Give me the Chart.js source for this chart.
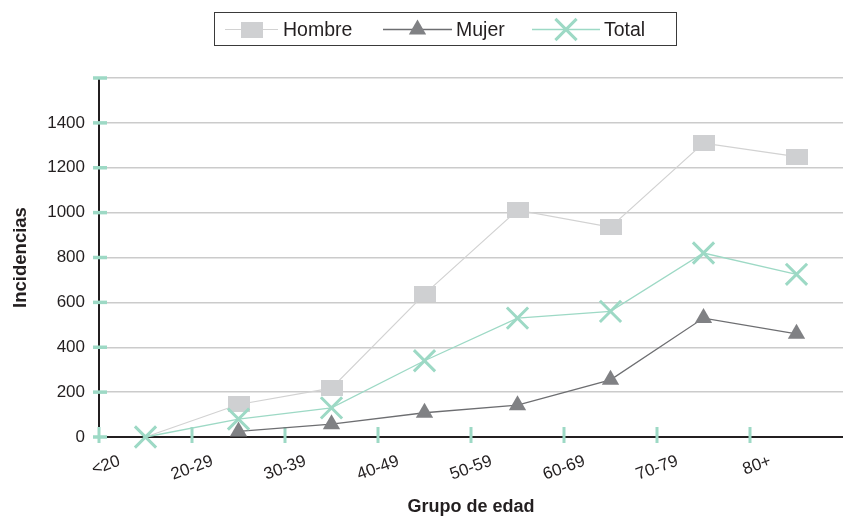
<!DOCTYPE html>
<html>
<head>
<meta charset="utf-8">
<script src="https://cdn.jsdelivr.net/npm/chart.js@4.4.1/dist/chart.umd.min.js"></script>
<style>
  html, body { margin: 0; padding: 0; background: #fff; overflow: hidden; }
  #wrap { width: 843px; height: 518px; }
</style>
</head>
<body>
<div id="wrap"><canvas id="chart"></canvas></div>
<script>
// Data
const categories = ['<20', '20-29', '30-39', '40-49', '50-59', '60-69', '70-79', '80+'];
const hombre = [0, 145, 218, 637, 1011, 935, 1310, 1250];
const mujer  = [null, 25, 57, 108, 142, 255, 530, 460];
const total  = [0, 80, 130, 340, 530, 560, 820, 725];
const yMax = 1600;
const yStep = 200;

const FONT = "'Liberation Sans', Arial, sans-serif";
const INK = '#231f20';
const GREY_LIGHT = '#cfd0d2';
const GREY_DARK = '#808184';
const TEAL = '#9dd9c5';

// wide grey rectangle used as the Hombre marker
function makeRect(w, h, color) {
  const c = document.createElement('canvas');
  c.width = w;
  c.height = h;
  const g = c.getContext('2d');
  g.fillStyle = color;
  g.fillRect(0, 0, w, h);
  return c;
}
const rectMarker = makeRect(22, 16, GREY_LIGHT);

/**
 * Teal tick marks that cross both axes
 */
const crossTicks = {
  id: 'crossTicks',
  beforeDatasetsDraw(chart) {
    const { ctx, scales: { x, y } } = chart;
    ctx.save();
    ctx.strokeStyle = TEAL;
    ctx.lineWidth = 3.5;
    y.ticks.forEach((t, i) => {
      const py = y.getPixelForTick(i);
      ctx.beginPath();
      ctx.moveTo(x.left - 6, py);
      ctx.lineTo(x.left + 8, py);
      ctx.stroke();
    });
    ctx.lineWidth = 3;
    for (let i = 0; i < categories.length; i++) {
      const px = x.getPixelForValue(i - 0.5);
      ctx.beginPath();
      ctx.moveTo(px, y.bottom - 10);
      ctx.lineTo(px, y.bottom + 6);
      ctx.stroke();
    }
    ctx.restore();
  }
};

/**
 * Boxed legend with a line through each marker
 */
const legendSlots = [
  { x0: 225, x1: 278, tx: 283 },
  { x0: 383, x1: 452, tx: 456 },
  { x0: 532, x1: 600, tx: 604 }
];
const boxLegend = {
  id: 'boxLegend',
  afterDraw(chart) {
    const ctx = chart.ctx;
    const cy = 29.5;
    ctx.save();
    ctx.strokeStyle = '#3a3a3a';
    ctx.lineWidth = 1;
    ctx.strokeRect(214.5, 12.5, 462, 33);
    chart.data.datasets.forEach((ds, i) => {
      const slot = legendSlots[i];
      ctx.strokeStyle = ds.borderColor;
      ctx.lineWidth = ds.borderWidth;
      ctx.beginPath();
      ctx.moveTo(slot.x0, cy);
      ctx.lineTo(slot.x1, cy);
      ctx.stroke();
      ctx.fillStyle = ds.pointBackgroundColor;
      ctx.strokeStyle = ds.pointBorderColor;
      ctx.lineWidth = ds.pointBorderWidth;
      Chart.helpers.drawPoint(ctx, {
        pointStyle: ds.pointStyle,
        radius: ds.legendRadius,
        rotation: 0,
        borderWidth: ds.pointBorderWidth
      }, (slot.x0 + slot.x1) / 2, cy);
      ctx.fillStyle = INK;
      ctx.font = '19.5px ' + FONT;
      ctx.textBaseline = 'middle';
      ctx.textAlign = 'left';
      ctx.fillText(ds.label, slot.tx, cy + 1);
    });
    ctx.restore();
  }
};

new Chart(document.getElementById('chart'), {
  type: 'line',
  data: {
    labels: categories,
    datasets: [
      {
        label: 'Hombre',
        data: hombre,
        borderColor: '#d2d2d2',
        borderWidth: 1.2,
        pointStyle: rectMarker,
        pointRadius: hombre.map((v, i) => i === 0 ? 0 : 8),
        pointBackgroundColor: GREY_LIGHT,
        pointBorderColor: GREY_LIGHT,
        pointBorderWidth: 0,
        legendRadius: 8,
        clip: false,
        order: 3
      },
      {
        label: 'Mujer',
        data: mujer,
        borderColor: '#6d6e71',
        borderWidth: 1.3,
        pointStyle: 'triangle',
        pointRadius: 10,
        pointBackgroundColor: GREY_DARK,
        pointBorderColor: GREY_DARK,
        pointBorderWidth: 0,
        legendRadius: 10,
        clip: false,
        order: 2
      },
      {
        label: 'Total',
        data: total,
        borderColor: TEAL,
        borderWidth: 1.3,
        pointStyle: 'crossRot',
        pointRadius: 15,
        pointBackgroundColor: TEAL,
        pointBorderColor: TEAL,
        pointBorderWidth: 3,
        legendRadius: 15,
        clip: false,
        order: 1
      }
    ]
  },
  options: {
    responsive: true,
    maintainAspectRatio: false,
    animation: false,
    layout: {
      autoPadding: false, // big markers must not shrink the plot area
      padding: { top: 78, left: 10, right: 0, bottom: 0 }
    },
    plugins: {
      legend: { display: false },
      tooltip: { enabled: false }
    },
    scales: {
      x: {
        offset: true,
        grid: { display: false, drawTicks: false },
        border: { color: INK, width: 2 },
        ticks: {
          color: INK,
          font: { family: FONT, size: 17 },
          minRotation: 20,
          maxRotation: 20,
          autoSkip: false,
          padding: 14,
          labelOffset: -26
        },
        title: {
          display: true,
          text: 'Grupo de edad',
          color: INK,
          font: { family: FONT, size: 18, weight: 'bold' },
          padding: 0
        },
        afterFit(scale) {
          // let the axis run to the right edge like the original
          scale.height = 81;
          scale.paddingLeft = 0;
          scale.paddingRight = 0;
        }
      },
      y: {
        min: 0,
        max: yMax,
        grid: { color: '#cbcbcb', lineWidth: 1.5, drawTicks: false },
        border: { color: INK, width: 2 },
        ticks: {
          stepSize: yStep,
          color: INK,
          font: { family: FONT, size: 17 },
          padding: 14,
          callback: v => v >= yMax ? '' : String(v)
        },
        title: {
          display: true,
          text: 'Incidencias',
          color: INK,
          font: { family: FONT, size: 18.5, weight: 'bold' },
          padding: 0
        },
        afterFit(scale) { scale.width = 89; }
      }
    }
  },
  plugins: [crossTicks, boxLegend]
});
</script>
</body>
</html>
